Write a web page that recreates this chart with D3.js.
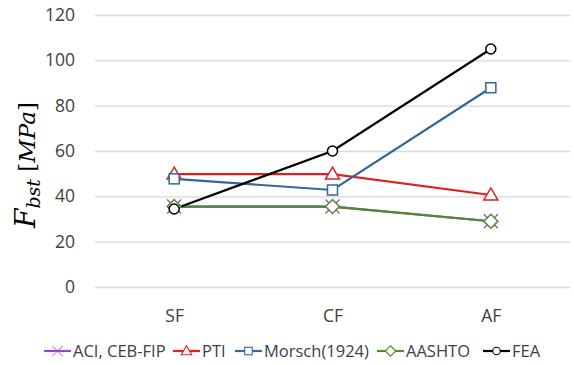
<!DOCTYPE html>
<html>
<head>
<meta charset="utf-8">
<script src="https://cdn.jsdelivr.net/npm/d3@7"></script>
<style>
  body { margin: 0; background: #fff; }
  svg { display: block; font-family: 'Open Sans', sans-serif; }
</style>
</head>
<body>
<svg></svg>
<script>
'use strict';
// data
var categories = ['SF', 'CF', 'AF'];
var yTicks = [0, 20, 40, 60, 80, 100, 120];
var seriesNames = ['ACI, CEB-FIP', 'PTI', 'Morsch(1924)', 'AASHTO', 'FEA'];
var aciValues = [35.5, 35.5, 29];
var ptiValues = [49.8, 49.8, 40.6];
var morschValues = [47.7, 42.8, 87.9];
var aashtoValues = [35.5, 35.5, 29];
var feaValues = [34.4, 60, 105];

var series = [
  { name: seriesNames[0], values: aciValues, color: '#9046cf', marker: 'x' },
  { name: seriesNames[1], values: ptiValues, color: '#e02020', marker: 'tri' },
  { name: seriesNames[2], values: morschValues, color: '#34679a', marker: 'sq' },
  { name: seriesNames[3], values: aashtoValues, color: '#4f8a30', marker: 'dia' },
  { name: seriesNames[4], values: feaValues, color: '#000000', marker: 'circ' }
];

var canvasWidth = 574;
var canvasHeight = 365;
var margin = { top: 15, right: 4, bottom: 78, left: 95 };
var width = canvasWidth - margin.left - margin.right;
var height = canvasHeight - margin.top - margin.bottom;

var svg = d3.select('svg')
  .attr('width', canvasWidth)
  .attr('height', canvasHeight);

var graphArea = svg.append('g')
  .attr('transform', 'translate(' + margin.left + ',' + margin.top + ')');

var xScale = d3.scalePoint().domain(categories).range([0, width]).padding(0.5);
var yScale = d3.scaleLinear().domain([0, 120]).range([height, 0]);

// gridlines
graphArea.selectAll('.grid')
  .data(yTicks)
  .enter().append('line')
  .attr('class', 'grid')
  .attr('x1', 0)
  .attr('x2', width)
  .attr('y1', function(d) { return yScale(d) + 0.5; })
  .attr('y2', function(d) { return yScale(d) + 0.5; })
  .style('stroke', '#d9d9d9')
  .style('stroke-width', 1.3);

// y axis
var yAxis = graphArea.append('g')
  .call(d3.axisLeft(yScale).tickValues(yTicks).tickSize(0).tickPadding(20));
yAxis.select('.domain').remove();
yAxis.selectAll('text')
  .style('font-family', "'Open Sans', sans-serif")
  .style('font-size', '17.5px')
  .style('fill', '#404040');

// x axis
var xAxis = graphArea.append('g')
  .attr('transform', 'translate(0,' + height + ')')
  .call(d3.axisBottom(xScale).tickSize(0).tickPadding(23));
xAxis.select('.domain').remove();
xAxis.selectAll('text')
  .style('font-family', "'Open Sans', sans-serif")
  .style('font-size', '17.5px')
  .style('fill', '#404040');

// y label
var yLabel = svg.append('text')
  .attr('transform', 'translate(35,165) rotate(-90)')
  .style('text-anchor', 'middle')
  .style('font-family', "'DejaVu Serif', serif")
  .style('fill', '#000');
yLabel.append('tspan').style('font-style', 'italic').style('font-size', '28px').text('F');
yLabel.append('tspan').style('font-style', 'italic').style('font-size', '19px').attr('dy', 5).text('bst');
yLabel.append('tspan').style('font-size', '23px').attr('dy', -5).text(' [');
yLabel.append('tspan').style('font-style', 'italic').style('font-size', '23px').text('MPa');
yLabel.append('tspan').style('font-size', '23px').text(']');

function drawMarker(g, type, color) {
  if (type === 'x') {
    g.append('path').attr('d', 'M-7,-7L7,7M-7,7L7,-7')
      .style('stroke', color).style('stroke-width', 1.2).style('fill', 'none');
  } else if (type === 'tri') {
    g.append('path').attr('d', 'M0,-7L7,5L-7,5Z')
      .style('stroke', color).style('stroke-width', 1.5).style('fill', '#fff');
  } else if (type === 'sq') {
    g.append('rect').attr('x', -5).attr('y', -5).attr('width', 10).attr('height', 10)
      .style('stroke', color).style('stroke-width', 1.5).style('fill', '#fff');
  } else if (type === 'dia') {
    g.append('path').attr('d', 'M0,-7L7,0L0,7L-7,0Z')
      .style('stroke', color).style('stroke-width', 1.5).style('fill', '#fff');
  } else if (type === 'circ') {
    g.append('circle').attr('r', 5)
      .style('stroke', color).style('stroke-width', 1.5).style('fill', '#fff');
  }
}

var line = d3.line()
  .x(function(d, i) { return xScale(categories[i]); })
  .y(function(d) { return yScale(d); });

// lines first, then markers
series.forEach(function(s) {
  graphArea.append('path')
    .datum(s.values)
    .attr('d', line)
    .style('fill', 'none')
    .style('stroke', s.color)
    .style('stroke-width', 2.2);
});
series.forEach(function(s) {
  s.values.forEach(function(v, i) {
    var g = graphArea.append('g')
      .attr('transform', 'translate(' + xScale(categories[i]) + ',' + yScale(v) + ')');
    drawMarker(g, s.marker, s.color);
  });
});

// legend
var legendX = [44, 173, 235, 377, 483];
var legend = svg.selectAll('.legend')
  .data(series)
  .enter().append('g')
  .attr('class', 'legend')
  .attr('transform', function(d, i) { return 'translate(' + legendX[i] + ',351)'; });

legend.append('line')
  .attr('x1', 0).attr('x2', 27)
  .style('stroke', function(d) { return d.color; })
  .style('stroke-width', 2.2);
legend.each(function(d) {
  var g = d3.select(this).append('g').attr('transform', 'translate(13.5,0) scale(0.75)');
  drawMarker(g, d.marker, d.color);
});
legend.append('text')
  .attr('x', 29)
  .attr('dy', '.35em')
  .style('font-size', '16.5px')
  .style('fill', '#404040')
  .text(function(d) { return d.name; });
</script>
</body>
</html>
